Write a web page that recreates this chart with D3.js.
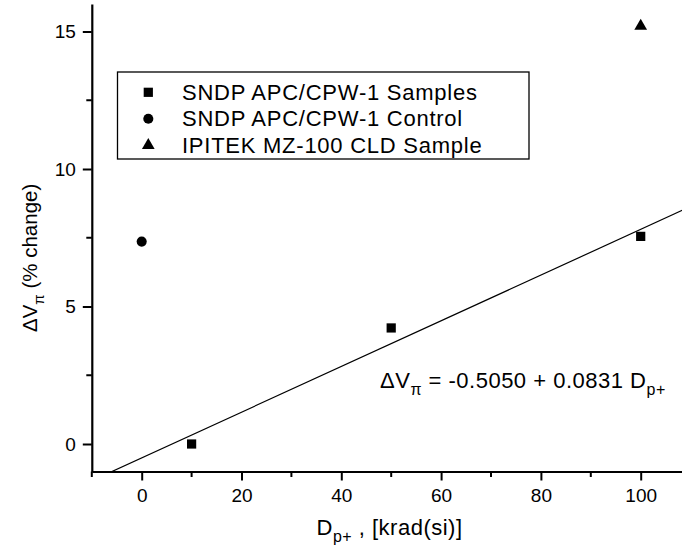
<!DOCTYPE html>
<html><head><meta charset="utf-8">
<script src="https://cdn.jsdelivr.net/npm/d3@7"></script>
<style>
html,body{margin:0;padding:0;background:#fff;}
svg text{font-family:"Liberation Sans",Arial,sans-serif;fill:#000;}
</style></head>
<body><svg id="c" width="682" height="552"></svg>
<script>
// ---- data ----
const samplesX = [10, 50, 100];
const samplesY = [0.0, 4.22, 7.55];
const controlX = [0];
const controlY = [7.36];
const ipitekX = [100];
const ipitekY = [15.2];
const fitIntercept = -0.5050;
const fitSlope = 0.0831;
const legendLabels = ["SNDP APC/CPW-1 Samples", "SNDP APC/CPW-1 Control", "IPITEK MZ-100 CLD Sample"];
const xTicks = [0, 20, 40, 60, 80, 100];
const yTicks = [0, 5, 10, 15];
const xDomain = [-10, 110];
const yDomain = [-1, 16];

const svg = d3.select("#c");
const x = d3.scaleLinear().domain(xDomain).range([91.8, 690.6]);
const y = d3.scaleLinear().domain(yDomain).range([471.5, 4]);

svg.append("defs").append("clipPath").attr("id","clip")
  .append("rect").attr("x",91.8).attr("y",4).attr("width",600).attr("height",467.5);

// fit line
const fx = [xDomain[0], xDomain[1]];
svg.append("g").attr("clip-path","url(#clip)")
  .append("line")
  .attr("x1", x(fx[0])).attr("y1", y(fitIntercept + fitSlope*fx[0]))
  .attr("x2", x(fx[1])).attr("y2", y(fitIntercept + fitSlope*fx[1]))
  .attr("stroke","#000").attr("stroke-width",1.2);

// axes
const xAxis = d3.axisBottom(x).tickValues(xTicks).tickSize(9).tickPadding(8).tickSizeOuter(0);
const yAxis = d3.axisLeft(y).tickValues(yTicks).tickSize(9).tickPadding(7).tickSizeOuter(0);
const gx = svg.append("g").attr("transform",`translate(0,${y(yDomain[0])})`).call(xAxis);
const gy = svg.append("g").attr("transform",`translate(${x(xDomain[0])},0)`).call(yAxis);
[gx,gy].forEach(g=>{
  g.select(".domain").attr("stroke-width",2.2);
  g.selectAll(".tick line").attr("stroke-width",2);
  g.selectAll(".tick text").attr("font-size",19).attr("font-family","Liberation Sans, Arial, sans-serif");
});
// minor ticks
const xMinor = d3.range(-10, 111, 20);
svg.append("g").selectAll("line").data(xMinor).join("line")
  .attr("x1",d=>x(d)).attr("x2",d=>x(d))
  .attr("y1",y(yDomain[0])).attr("y2",y(yDomain[0])+5.5)
  .attr("stroke","#000").attr("stroke-width",2);
const yMinor = [2.5, 7.5, 12.5];
svg.append("g").selectAll("line").data(yMinor).join("line")
  .attr("y1",d=>y(d)).attr("y2",d=>y(d))
  .attr("x1",x(xDomain[0])).attr("x2",x(xDomain[0])-5.5)
  .attr("stroke","#000").attr("stroke-width",2);

// markers
const sq = d3.symbol().type(d3.symbolSquare).size(85);
const ci = d3.symbol().type(d3.symbolCircle).size(80);
const tr = d3.symbol().type(d3.symbolTriangle).size(70);
svg.append("g").selectAll("path").data(samplesX.map((d,i)=>[d,samplesY[i]])).join("path")
  .attr("d",sq).attr("transform",d=>`translate(${x(d[0])},${y(d[1])})`);
svg.append("g").selectAll("path").data(controlX.map((d,i)=>[d,controlY[i]])).join("path")
  .attr("d",ci).attr("transform",d=>`translate(${x(d[0])},${y(d[1])})`);
svg.append("g").selectAll("path").data(ipitekX.map((d,i)=>[d,ipitekY[i]])).join("path")
  .attr("d",tr).attr("transform",d=>`translate(${x(d[0])},${y(d[1])})`);

// legend
const lg = svg.append("g");
lg.append("rect").attr("x",117.5).attr("y",72).attr("width",411.5).attr("height",87)
  .attr("fill","#fff").attr("stroke","#000").attr("stroke-width",1.3);
const syms = [sq, ci, tr];
const rowsY = [92.3, 118.8, 145.3];
legendLabels.forEach((t,i)=>{
  lg.append("path").attr("d",syms[i]).attr("transform",`translate(148.3,${rowsY[i]})`);
  lg.append("text").attr("x",182).attr("y",rowsY[i]+7.5).attr("font-size",22)
    .attr("letter-spacing",0.75).text(t);
});

// equation
const eq = svg.append("text").attr("x",380).attr("y",388).attr("font-size",22).attr("letter-spacing",0.5);
eq.append("tspan").text("\u0394V");
eq.append("tspan").attr("dy",7).attr("font-size",16).text("\u03c0");
eq.append("tspan").attr("dy",-7).text(" = -0.5050 + 0.0831 D");
eq.append("tspan").attr("dy",7).attr("font-size",16).text("p+");

// x title
const xt = svg.append("text").attr("x",316.5).attr("y",535).attr("font-size",22).attr("letter-spacing",0.5);
xt.append("tspan").text("D");
xt.append("tspan").attr("dy",7).attr("font-size",16).text("p+");
xt.append("tspan").attr("dy",-7).text(" , [krad(si)]");

// y title
const yt = svg.append("text").attr("transform","translate(37,332) rotate(-90)").attr("font-size",20.5);
yt.append("tspan").text("\u0394V");
yt.append("tspan").attr("dy",7).attr("font-size",15).text("\u03c0");
yt.append("tspan").attr("dy",-7).text(" (% change)");
</script></body></html>
